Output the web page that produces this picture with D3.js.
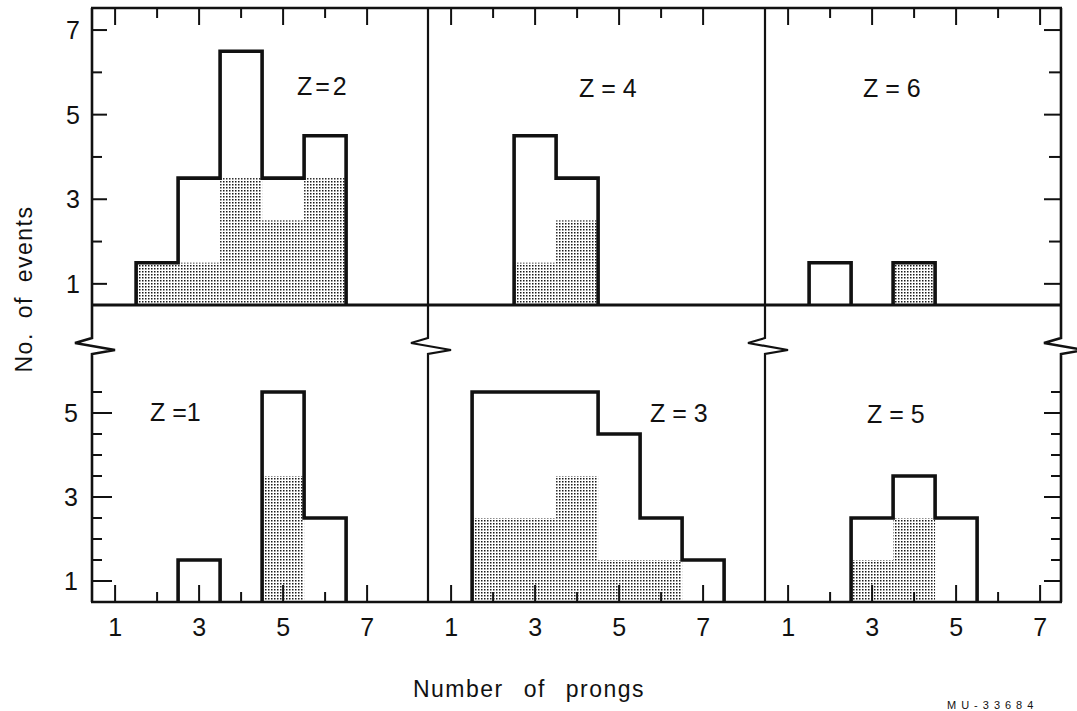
<!DOCTYPE html>
<html>
<head>
<meta charset="utf-8">
<script src="https://cdn.jsdelivr.net/npm/d3@7"></script>
<style>
  body { margin: 0; background: #fff; }
  text { font-family: "Liberation Sans", Arial, sans-serif; fill: #111; }
</style>
</head>
<body>
<div id="chart"></div>
<script>
// number of prongs (bins centred on integers)
var prongs = [1, 2, 3, 4, 5, 6, 7];

// all events / dotted events per prong number
var z2All = [0, 1, 3, 6, 3, 4, 0];
var z2Dot = [0, 1, 1, 3, 2, 3, 0];
var z4All = [0, 0, 4, 3, 0, 0, 0];
var z4Dot = [0, 0, 1, 2, 0, 0, 0];
var z6All = [0, 1, 0, 1, 0, 0, 0];
var z6Dot = [0, 0, 0, 1, 0, 0, 0];
var z1All = [0, 0, 1, 0, 5, 2, 0];
var z1Dot = [0, 0, 0, 0, 3, 0, 0];
var z3All = [0, 5, 5, 5, 4, 2, 1];
var z3Dot = [0, 2, 2, 3, 1, 1, 0];
var z5All = [0, 0, 2, 3, 2, 0, 0];
var z5Dot = [0, 0, 1, 2, 0, 0, 0];

var panelLabels = ["Z=2", "Z = 4", "Z = 6", "Z =1", "Z = 3", "Z = 5"];

// tick values
var xTicks = [1, 2, 3, 4, 5, 6, 7];
var xTickLabels = ["1", "3", "5", "7"];
var yTicksTop = [1, 2, 3, 4, 5, 6, 7];
var yTicksBottom = [1, 1.5, 2, 2.5, 3, 3.5, 4, 4.5, 5, 5.5];
var yTickLabelsTop = ["1", "3", "5", "7"];
var yTickLabelsBottom = ["1", "3", "5"];

var base = 0.5; // axis value of the zero line

// layout
var W = 1077, H = 711;
var colLeft = [92, 428, 765], rightEdge = 1061;
var top0 = 8, mid = 305, bottom0 = 602;

var svg = d3.select("#chart").append("svg")
    .attr("width", W)
    .attr("height", H);

// dot screen for shaded part
var pat = svg.append("defs").append("pattern")
    .attr("id", "dots")
    .attr("patternUnits", "userSpaceOnUse")
    .attr("width", 3)
    .attr("height", 3);
pat.append("rect").attr("width", 3).attr("height", 3).attr("fill", "#fff");
pat.append("rect").attr("x", 1).attr("y", 1).attr("width", 1.5).attr("height", 1.5).attr("fill", "#1a1a1a");

// scales
var xScales = colLeft.map(function(l, i){
    var r = i < 2 ? colLeft[i + 1] : rightEdge;
    return d3.scaleLinear().domain([0.45, 0.45 + (r - l) / 42]).range([l, r]);
});
var yTop = d3.scaleLinear().domain([base, base + (mid - top0) / 42.3]).range([mid, top0]);
var yBot = d3.scaleLinear().domain([base, base + (bottom0 - mid) / 42]).range([bottom0, mid]);

var panels = [
    {all: z2All, dot: z2Dot, col: 0, y: yTop, lx: 297, ly: 95, ls: 3},
    {all: z4All, dot: z4Dot, col: 1, y: yTop, lx: 579, ly: 97, ls: 0},
    {all: z6All, dot: z6Dot, col: 2, y: yTop, lx: 863, ly: 97, ls: 0},
    {all: z1All, dot: z1Dot, col: 0, y: yBot, lx: 150, ly: 421, ls: 0},
    {all: z3All, dot: z3Dot, col: 1, y: yBot, lx: 650, ly: 422, ls: 0},
    {all: z5All, dot: z5Dot, col: 2, y: yBot, lx: 867, ly: 423, ls: 0}
];

var line = d3.line()
    .x(function(d){ return d[0]; })
    .y(function(d){ return d[1]; });

panels.forEach(function(p, k){
    var x = xScales[p.col], y = p.y;
    var g = svg.append("g");

    // dotted part
    g.selectAll("rect.dot")
        .data(prongs.filter(function(n, i){ return p.dot[i] > 0; }))
        .enter().append("rect")
        .attr("x", function(n){ return x(n - 0.5); })
        .attr("width", function(n){ return x(n + 0.5) - x(n - 0.5); })
        .attr("y", function(n){ return y(base + p.dot[prongs.indexOf(n)]); })
        .attr("height", function(n){ return y(base) - y(base + p.dot[prongs.indexOf(n)]); })
        .attr("fill", "url(#dots)");

    // outline, one step path per run of filled bins
    var runs = [], cur = null;
    prongs.forEach(function(n, i){
        if (p.all[i] > 0) {
            if (!cur) { cur = [[x(n - 0.5), y(base)]]; runs.push(cur); }
            cur.push([x(n - 0.5), y(base + p.all[i])]);
            cur.push([x(n + 0.5), y(base + p.all[i])]);
        } else if (cur) {
            cur.push([cur[cur.length - 1][0], y(base)]);
            cur = null;
        }
    });
    if (cur) cur.push([cur[cur.length - 1][0], y(base)]);

    g.selectAll("path.hist")
        .data(runs)
        .enter().append("path")
        .attr("d", line)
        .style("fill", "none")
        .style("stroke", "#111")
        .style("stroke-width", "3.6px")
        .style("stroke-linejoin", "miter");

    g.append("text")
        .attr("x", p.lx)
        .attr("y", p.ly)
        .style("font-size", "25px")
        .style("letter-spacing", p.ls + "px")
        .text(panelLabels[k]);
});

// frame lines with axis break zigzags in the lower half
var brk = 338;
function vline(xp, w){
    var pts = [[xp, top0], [xp, brk], [xp - 17, brk + 5], [xp + 23, brk + 12], [xp, brk + 16], [xp, bottom0]];
    svg.append("path")
        .attr("d", line(pts))
        .style("fill", "none")
        .style("stroke", "#111")
        .style("stroke-width", w + "px")
        .style("stroke-linejoin", "miter");
}
vline(colLeft[0], 2.6);
vline(colLeft[1], 2.2);
vline(colLeft[2], 2.2);
vline(rightEdge, 2.6);

[top0, mid, bottom0].forEach(function(yy, i){
    svg.append("line")
        .attr("x1", colLeft[0] - 1).attr("x2", rightEdge + 1)
        .attr("y1", yy).attr("y2", yy)
        .style("stroke", "#111")
        .style("stroke-width", (i == 1 ? 3 : 2.6) + "px");
});

// ticks
function isMajor(v){ return v % 2 == 1; }
function tick(x1, y1, x2, y2){
    svg.append("line")
        .attr("x1", x1).attr("y1", y1).attr("x2", x2).attr("y2", y2)
        .style("stroke", "#111").style("stroke-width", "2px");
}
xScales.forEach(function(x){
    xTicks.forEach(function(v){
        var len = isMajor(v) ? 17 : 10;
        tick(x(v), top0, x(v), top0 + len);
        tick(x(v), bottom0, x(v), bottom0 - len);
    });
});
yTicksTop.forEach(function(v){
    var len = isMajor(v) ? 15 : 10;
    tick(colLeft[0], yTop(v), colLeft[0] + len, yTop(v));
    tick(rightEdge, yTop(v), rightEdge - (isMajor(v) ? 17 : 12), yTop(v));
});
yTicksBottom.forEach(function(v){
    tick(colLeft[0], yBot(v), colLeft[0] + (isMajor(v) ? 20 : 10), yBot(v));
    tick(rightEdge, yBot(v), rightEdge - (isMajor(v) ? 17 : 10), yBot(v));
});

// tick labels
svg.selectAll("text.yt")
    .data(yTickLabelsTop)
    .enter().append("text")
    .attr("x", 73)
    .attr("y", function(d){ return yTop(+d) + 9; })
    .attr("text-anchor", "middle")
    .style("font-size", "25px")
    .text(function(d){ return d; });
svg.selectAll("text.yb")
    .data(yTickLabelsBottom)
    .enter().append("text")
    .attr("x", 71)
    .attr("y", function(d){ return yBot(+d) + 9; })
    .attr("text-anchor", "middle")
    .style("font-size", "25px")
    .text(function(d){ return d; });
xScales.forEach(function(x){
    svg.append("g").selectAll("text")
        .data(xTickLabels)
        .enter().append("text")
        .attr("x", function(d){ return x(+d); })
        .attr("y", 636)
        .attr("text-anchor", "middle")
        .style("font-size", "25px")
        .text(function(d){ return d; });
});

// axis titles
svg.append("text")
    .attr("transform", "translate(32,289) rotate(-90)")
    .attr("text-anchor", "middle")
    .style("font-size", "23px")
    .style("letter-spacing", "1.5px")
    .style("word-spacing", "6px")
    .text("No. of events");

svg.append("text")
    .attr("x", 529)
    .attr("y", 697)
    .attr("text-anchor", "middle")
    .style("font-size", "23px")
    .style("letter-spacing", "1.5px")
    .style("word-spacing", "12px")
    .text("Number of prongs");

svg.append("text")
    .attr("x", 947)
    .attr("y", 709)
    .style("font-size", "11px")
    .style("letter-spacing", "5px")
    .text("MU-33684");
</script>
</body>
</html>
